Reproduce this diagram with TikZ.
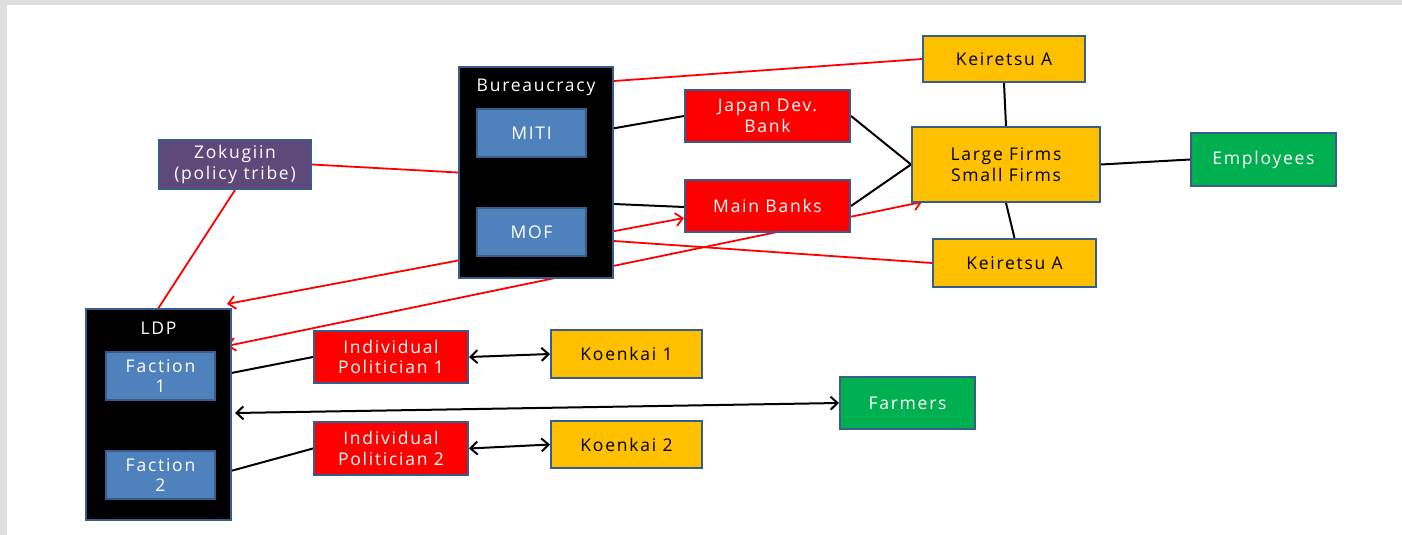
\documentclass[tikz,border=0pt]{standalone}
\usepackage{fontspec}
\setmainfont{Open Sans}[LetterSpace=10]
\usetikzlibrary{arrows.meta,calc}
\pgfdeclarelayer{back}
\pgfdeclarelayer{edges}
\pgfsetlayers{back,edges,main}
\definecolor{bord}{HTML}{385D8A}
\definecolor{bluebox}{HTML}{4F81BD}
\definecolor{purplebox}{HTML}{5F497A}
\definecolor{redbox}{HTML}{FF0000}
\definecolor{yellowbox}{HTML}{FFC000}
\definecolor{greenbox}{HTML}{00B050}
\definecolor{framegray}{HTML}{DEDEDE}
\tikzset{
  box/.style={draw=bord, line width=2pt, inner sep=0pt, align=center,
    font=\fontsize{17.5}{20.5}\selectfont, text=white},
  container/.style={box, fill=black},
  inner/.style={box, fill=bluebox},
  purplenode/.style={box, fill=purplebox},
  rednode/.style={box, fill=redbox},
  yellownode/.style={box, fill=yellowbox, text=black},
  greennode/.style={box, fill=greenbox},
  titletext/.style={inner sep=0pt, text=white, font=\fontsize{17.5}{20.5}\selectfont},
  redline/.style={draw=red, line width=1.8pt},
  blackline/.style={draw=black, line width=2pt},
  tip/.tip={Straight Barb[length=7pt,width=13pt]},
}
\begin{document}
\begin{tikzpicture}[x=1pt,y=-1pt]
\useasboundingbox (0,0) rectangle (1402,535);
\begin{pgfonlayer}{back}
  \fill[framegray] (0,0) rectangle (1402,535);
  \fill[white] (7,5) rectangle (1402,535);
\end{pgfonlayer}

% Bureaucracy
\node[container, minimum width=154pt, minimum height=211pt] (bur) at (536,172.5) {};
\node[titletext] (burt) at (536,87) {Bureaucracy};
\node[inner, minimum width=109pt, minimum height=48pt] (miti) at (531.5,133) {MITI};
\node[inner, minimum width=109pt, minimum height=48pt] (mof) at (531.5,232) {MOF};

% Zokugiin
\node[purplenode, minimum width=152pt, minimum height=49pt] (zok) at (235,164.5) {Zokugiin\\(policy tribe)};

% Banks
\node[rednode, minimum width=165pt, minimum height=52pt] (jdb) at (767.5,116) {Japan Dev.\\Bank};
\node[rednode, minimum width=165pt, minimum height=52pt] (mb) at (767.5,206) {Main Banks};

% Firms
\node[yellownode, minimum width=162pt, minimum height=46pt] (k1) at (1004,59) {Keiretsu A};
\node[yellownode, minimum width=188pt, minimum height=75pt] (lf) at (1006,164.5) {Large Firms\\Small Firms};
\node[yellownode, minimum width=163pt, minimum height=48pt] (k2) at (1014.5,263) {Keiretsu A};
\node[greennode, minimum width=145pt, minimum height=53pt] (emp) at (1263.5,159.5) {Employees};

% LDP
\node[container, minimum width=145pt, minimum height=211pt] (ldp) at (158.5,414.5) {};
\node[titletext] (ldpt) at (158.5,328) {LDP};
\node[inner, minimum width=109pt, minimum height=48pt] (f1) at (160.5,376) {Faction\\1};
\node[inner, minimum width=109pt, minimum height=48pt] (f2) at (160.5,475) {Faction\\2};

% Politicians
\node[rednode, minimum width=154pt, minimum height=52pt] (ip1) at (391,357) {Individual\\Politician 1};
\node[rednode, minimum width=154pt, minimum height=53pt] (ip2) at (391,448.5) {Individual\\Politician 2};
\node[yellownode, minimum width=151pt, minimum height=48pt] (ko1) at (626.5,354) {Koenkai 1};
\node[yellownode, minimum width=151pt, minimum height=47pt] (ko2) at (626.5,444.5) {Koenkai 2};
\node[greennode, minimum width=135pt, minimum height=52pt] (farm) at (907.5,403) {Farmers};

\begin{pgfonlayer}{edges}
  % red links
  \draw[redline] ($(bur.north east)+(0,15)$) -- (k1.west);
  \draw[redline] (zok.east) -- (bur.west);
  \draw[redline] (zok.south) -- (ldp.north);
  \draw[redline] ($(bur.east)+(0,68.5)$) -- (k2.west);
  \draw[redline, {tip}-{tip}] ($(ldp.north east)+(-5,-4)$) -- ($(mb.west)+(0,12)$);
  \draw[redline, {tip}-{tip}] ($(ldp.north east)+(-5,38)$) -- ($(lf.south west)+(11,-1)$);
  % black links
  \draw[blackline] (miti.east) -- (jdb.west);
  \draw[blackline] ($(bur.east)+(0,31.5)$) -- ($(mb.west)+(0,1)$);
  \draw[blackline] (jdb.east) -- (lf.west);
  \draw[blackline] (mb.east) -- (lf.west);
  \draw[blackline] (k1.south) -- (lf.north);
  \draw[blackline] (lf.south) -- (k2.north);
  \draw[blackline] (lf.east) -- (emp.west);
  \draw[blackline] (f1.east) -- (ip1.west);
  \draw[blackline] (f2.east) -- (ip2.west);
  \draw[blackline, {tip}-{tip}] (ip1.east) -- (ko1.west);
  \draw[blackline, {tip}-{tip}] (ip2.east) -- (ko2.west);
  \draw[blackline, {tip}-{tip}] ($(ldp.east)+(3,-1.5)$) -- (farm.west);
\end{pgfonlayer}
\end{tikzpicture}
\end{document}
